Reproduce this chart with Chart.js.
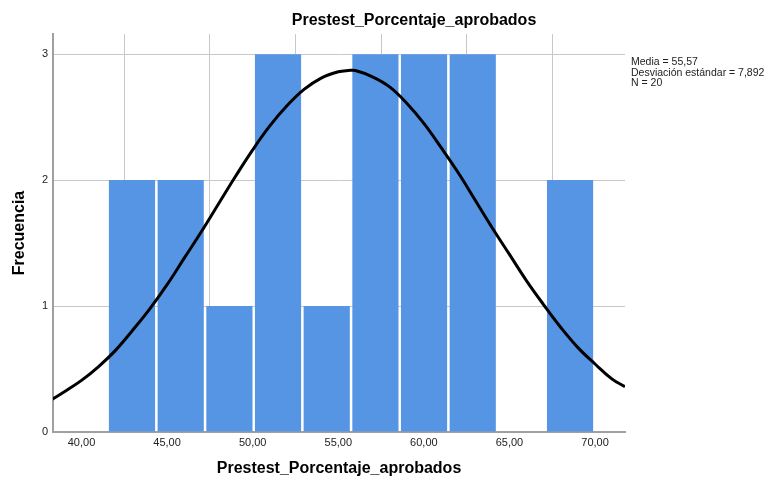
<!DOCTYPE html>
<html>
<head>
<meta charset="utf-8">
<script src="https://cdn.jsdelivr.net/npm/chart.js@4.4.1/dist/chart.umd.min.js"></script>
<style>
  html, body { margin: 0; padding: 0; background: #fff; }
  canvas { display: block; }
</style>
</head>
<body>
<canvas id="hist" width="769" height="480"></canvas>
<script>
const chartTitle = 'Prestest_Porcentaje_aprobados'
const xTitle = 'Prestest_Porcentaje_aprobados'
const yTitle = 'Frecuencia'
const statsLines = ['Media = 55,57', 'Desviación estándar = 7,892', 'N = 20']

// histogram bins (edges) and counts
const binEdges = [41.53, 44.37, 47.22, 50.06, 52.90, 55.75, 58.59, 61.43, 64.28, 67.12, 69.96]
const counts = [2, 2, 1, 3, 1, 3, 3, 3, 0, 2]

// normal curve
const curveX = [38.3, 39, 40, 41, 42, 43, 44, 45, 46, 47, 48, 49, 50, 51, 52, 53, 54, 55, 55.6, 56, 57, 58, 59, 60, 61, 62, 63, 64, 65, 66, 67, 68, 69, 70, 71, 71.75]
const curveY = [0.26, 0.32, 0.41, 0.52, 0.65, 0.81, 0.98, 1.17, 1.38, 1.59, 1.81, 2.03, 2.24, 2.43, 2.59, 2.72, 2.81, 2.86, 2.87, 2.87, 2.82, 2.74, 2.61, 2.45, 2.26, 2.06, 1.84, 1.62, 1.41, 1.20, 1.01, 0.83, 0.67, 0.54, 0.42, 0.36]

const xTicks = [40, 45, 50, 55, 60, 65, 70]
const yTicks = [0, 1, 2, 3]
const xMin = 38.335, xMax = 71.75
const yMax = 3.16

const font = '"Liberation Sans", Arial, sans-serif'

const barData = counts.map((c, i) => ({ x: (binEdges[i] + binEdges[i + 1]) / 2, y: c }))
const curveData = curveX.map((x, i) => ({ x: x, y: curveY[i] }))

const textPlugin = {
    id: 'texts',
    afterDraw(chart) {
        const ctx = chart.ctx
        const area = chart.chartArea
        ctx.save()
        ctx.fillStyle = '#000'
        ctx.textBaseline = 'middle'
        ctx.font = 'bold 16px ' + font
        ctx.textAlign = 'center'
        ctx.fillText(chartTitle, 414, 21)
        ctx.fillText(xTitle, (area.left + area.right) / 2, 469)
        ctx.save()
        ctx.translate(20, (area.top + area.bottom) / 2)
        ctx.rotate(-Math.PI / 2)
        ctx.fillText(yTitle, 0, 0)
        ctx.restore()
        ctx.font = '10.5px ' + font
        ctx.fillStyle = '#222'
        ctx.textAlign = 'left'
        statsLines.forEach((t, i) => ctx.fillText(t, area.right + 6, 62 + i * 10.7))
        ctx.restore()
    }
}

new Chart(document.getElementById('hist'), {
    type: 'bar',
    data: {
        datasets: [
            {
                type: 'line',
                data: curveData,
                borderColor: '#000',
                borderWidth: 3,
                pointRadius: 0,
                tension: 0.4,
                fill: false,
                order: 0
            },
            {
                type: 'bar',
                data: barData,
                backgroundColor: '#5694e4',
                borderWidth: 0,
                barPercentage: 0.95,
                categoryPercentage: 1,
                order: 1
            }
        ]
    },
    options: {
        responsive: false,
        animation: false,
        layout: { padding: { top: 34, right: 144, left: 0, bottom: 0 } },
        plugins: {
            legend: { display: false },
            tooltip: { enabled: false },
            title: { display: false }
        },
        scales: {
            x: {
                type: 'linear',
                min: xMin,
                max: xMax,
                offset: false,
                afterBuildTicks: s => { s.ticks = xTicks.map(v => ({ value: v })) },
                afterFit: s => { s.height = 48 },
                ticks: {
                    font: { family: font, size: 11 },
                    color: '#222',
                    padding: 4,
                    maxRotation: 0,
                    callback: v => v.toFixed(2).replace('.', ',')
                },
                grid: { color: '#c8c8c8', lineWidth: 1, drawTicks: false },
                border: { color: '#a0a0a0', width: 2 }
            },
            y: {
                min: 0,
                max: yMax,
                afterBuildTicks: s => { s.ticks = yTicks.map(v => ({ value: v })) },
                afterFit: s => { s.width = 53 },
                ticks: {
                    font: { family: font, size: 11 },
                    color: '#222',
                    padding: 5,
                    callback: v => String(v)
                },
                grid: { color: '#c8c8c8', lineWidth: 1, drawTicks: false },
                border: { color: '#a0a0a0', width: 2 }
            }
        }
    },
    plugins: [textPlugin]
})
</script>
</body>
</html>
